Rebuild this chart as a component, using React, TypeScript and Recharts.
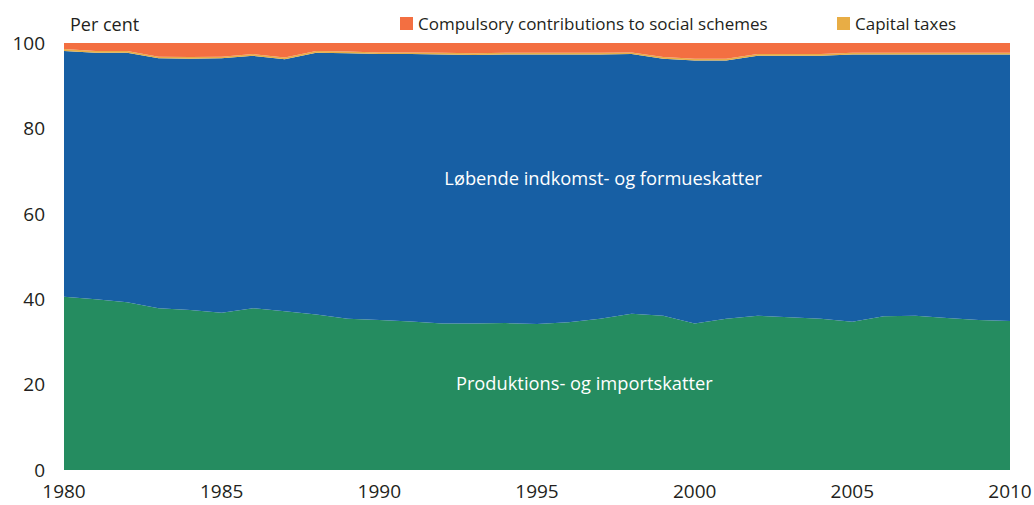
import React from 'react';
import { AreaChart, Area, XAxis, YAxis, Legend, ReferenceDot } from 'recharts';

document.body.style.margin = '0';

const years = [1980, 1981, 1982, 1983, 1984, 1985, 1986, 1987, 1988, 1989, 1990, 1991, 1992, 1993, 1994, 1995, 1996, 1997, 1998, 1999, 2000, 2001, 2002, 2003, 2004, 2005, 2006, 2007, 2008, 2009, 2010];
const production = [40.6, 40.0, 39.3, 37.9, 37.5, 36.8, 37.9, 37.2, 36.4, 35.4, 35.1, 34.8, 34.3, 34.3, 34.4, 34.2, 34.6, 35.4, 36.6, 36.1, 34.3, 35.4, 36.1, 35.8, 35.4, 34.7, 36.0, 36.1, 35.6, 35.1, 34.9];
const income = [57.5, 57.7, 58.4, 58.5, 58.8, 59.6, 59.1, 59.0, 61.3, 62.2, 62.3, 62.6, 63.0, 62.9, 62.9, 63.1, 62.7, 61.9, 60.8, 60.2, 61.6, 60.5, 60.9, 61.2, 61.6, 62.6, 61.3, 61.2, 61.7, 62.2, 62.4];
const capital = [0.5, 0.4, 0.4, 0.4, 0.4, 0.4, 0.4, 0.4, 0.4, 0.4, 0.4, 0.4, 0.4, 0.4, 0.4, 0.4, 0.4, 0.4, 0.4, 0.4, 0.4, 0.4, 0.4, 0.4, 0.4, 0.4, 0.4, 0.4, 0.4, 0.4, 0.4];
const compulsory = [1.4, 1.9, 1.9, 3.2, 3.3, 3.2, 2.6, 3.4, 1.9, 2.0, 2.2, 2.2, 2.3, 2.4, 2.3, 2.3, 2.3, 2.3, 2.2, 3.3, 3.7, 3.7, 2.6, 2.6, 2.6, 2.3, 2.3, 2.3, 2.3, 2.3, 2.3];

const xTicks = [1980, 1985, 1990, 1995, 2000, 2005, 2010];
const yTicks = [0, 20, 40, 60, 80, 100];

const data = years.map((year, i) => ({
  year,
  production: production[i],
  income: income[i],
  capital: capital[i],
  compulsory: compulsory[i],
}));

const FONT = "'Open Sans', 'DejaVu Sans', sans-serif";
const tickStyle = { fontSize: 19, fill: '#231f20', fontFamily: FONT };

const LegendBox = () => (
  <div style={{ position: 'relative', height: 30, fontFamily: FONT, fontSize: 17, color: '#231f20' }}>
    <div style={{ position: 'absolute', left: 400, top: 12, display: 'flex', alignItems: 'center' }}>
      <span style={{ width: 13, height: 13, background: '#f36f41', marginRight: 5 }} />
      <span>Compulsory contributions to social schemes</span>
    </div>
    <div style={{ position: 'absolute', left: 837, top: 12, display: 'flex', alignItems: 'center' }}>
      <span style={{ width: 13, height: 13, background: '#e8ad45', marginRight: 5 }} />
      <span>Capital taxes</span>
    </div>
  </div>
);

export default function App() {
  return (
    <div style={{ position: 'relative', width: 1034, height: 505, background: '#fff' }}>
      <div style={{ position: 'absolute', left: 70, top: 12, fontFamily: FONT, fontSize: 18, color: '#231f20' }}>Per cent</div>
      <AreaChart width={1034} height={505} data={data} margin={{ top: 43, right: 24, left: 0, bottom: 0 }}>
        <XAxis
          dataKey="year"
          type="number"
          domain={[1980, 2010]}
          ticks={xTicks}
          tickLine={false}
          axisLine={false}
          tickSize={0}
          tickMargin={15}
          height={35}
          tick={tickStyle}
        />
        <YAxis
          type="number"
          domain={[0, 100]}
          ticks={yTicks}
          tickLine={false}
          axisLine={false}
          tickSize={0}
          tickMargin={19}
          width={64}
          tick={tickStyle}
        />
        <Legend verticalAlign="top" content={() => null} />
        <Area type="linear" dataKey="production" stackId="1" stroke="none" fill="#258c60" fillOpacity={1} isAnimationActive={false} />
        <Area type="linear" dataKey="income" stackId="1" stroke="none" fill="#175fa4" fillOpacity={1} isAnimationActive={false} />
        <Area type="linear" dataKey="capital" stackId="1" stroke="none" fill="#e8ad45" fillOpacity={1} isAnimationActive={false} />
        <Area type="linear" dataKey="compulsory" stackId="1" stroke="none" fill="#f36f41" fillOpacity={1} isAnimationActive={false} />
        <ReferenceDot x={1997.1} y={68.3} r={0} label={{ value: 'Løbende indkomst- og formueskatter', position: 'center', fill: '#fff', fontSize: 18.3, fontFamily: FONT }} />
        <ReferenceDot x={1996.5} y={20.3} r={0} label={{ value: 'Produktions- og importskatter', position: 'center', fill: '#fff', fontSize: 18.3, fontFamily: FONT }} />
      </AreaChart>
      <div style={{ position: 'absolute', left: 0, top: 0, width: 1034 }}>
        <LegendBox />
      </div>
    </div>
  );
}
